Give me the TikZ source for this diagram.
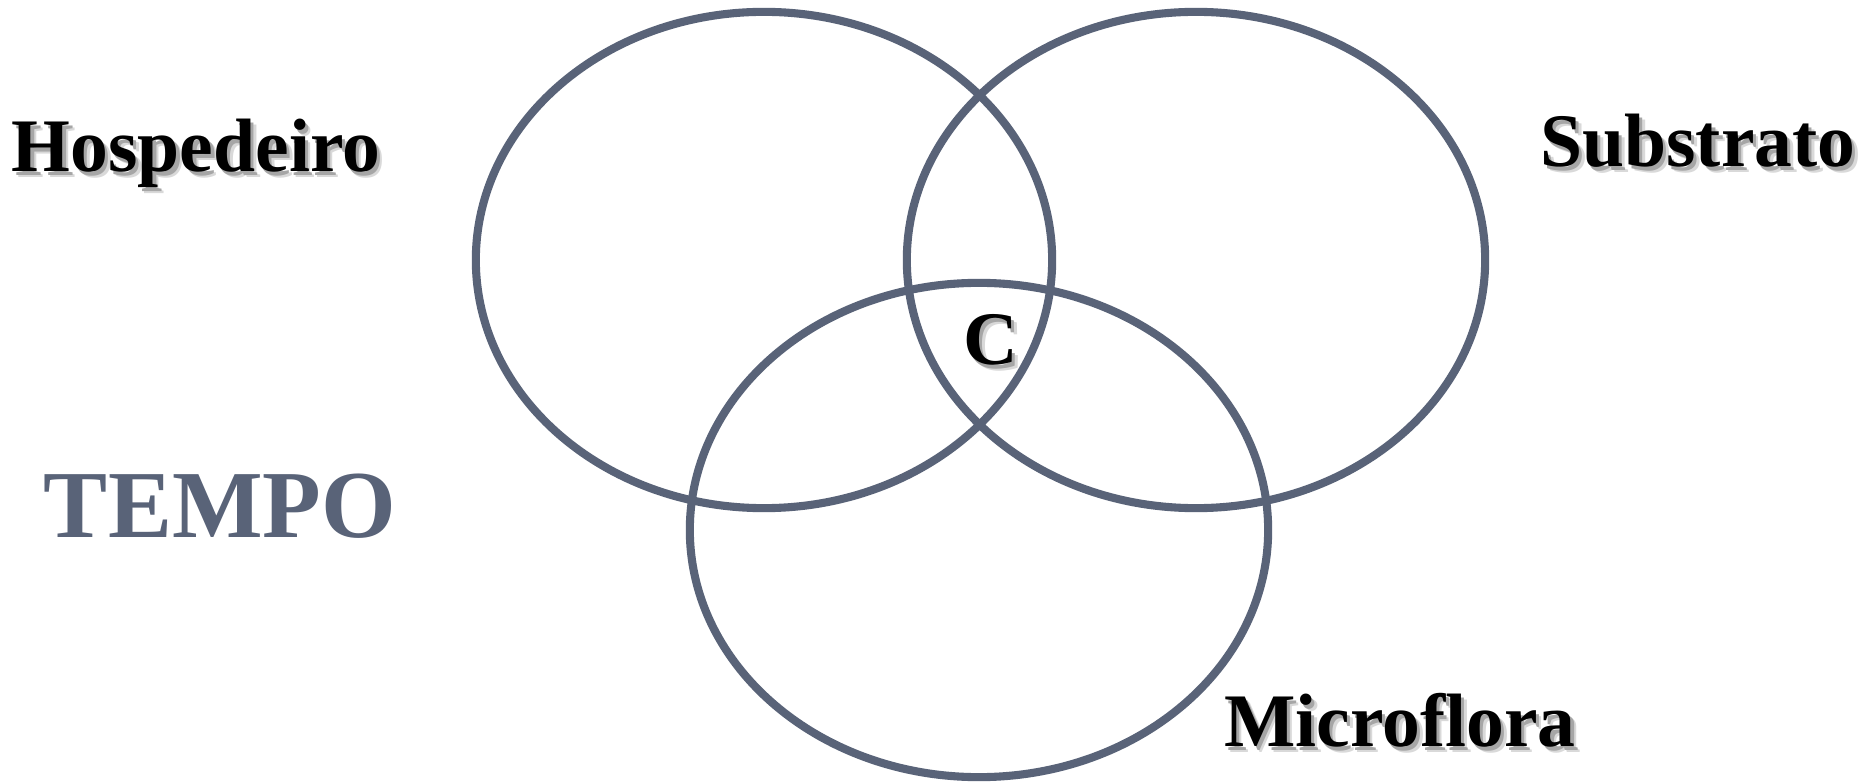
\documentclass[tikz,border=0pt]{standalone}
\usepackage{fontspec}
\setmainfont{Liberation Serif}
\definecolor{SlateGray}{RGB}{89,99,120}
\usepackage{tikz}
\usetikzlibrary{positioning}
\newcommand{\shadowed}[1]{%
  \rlap{\kern1.6pt\raisebox{-1.6pt}{\color{black!15}#1}}%
  \rlap{\kern0.9pt\raisebox{-0.9pt}{\color{black!35}#1}}#1}
\tikzset{
  ring/.style={draw=SlateGray, line width=2.3pt},
  lbl/.style={font=\bfseries\fontsize{21.5pt}{25pt}\selectfont, anchor=base, inner sep=0pt}
}

\begin{document}
\begin{tikzpicture}[x=0.01cm, y=-0.01cm]
    \useasboundingbox[fill=white] (0,0) rectangle (1871,782);
    % the three sets
    \draw[ring] (764,260) ellipse [x radius=2.88cm, y radius=2.48cm];
    \draw[ring] (1196,260) ellipse [x radius=2.89cm, y radius=2.48cm];
    \draw[ring] (979,530) ellipse [x radius=2.89cm, y radius=2.47cm];
    % labels
    \node[lbl] (hosp) at (196,172) {\shadowed{Hospedeiro}};
    \node[lbl] (subs) at (1698,167) {\shadowed{Substrato}};
    \node[lbl] (micro) at (1400,747) {\shadowed{Microflora}};
    \node[lbl] (core) at (991,365) {\shadowed{C}};
    \node[lbl, font=\bfseries\fontsize{27.3pt}{32pt}\selectfont, text=SlateGray] (tempo) at (220,538) {TEMPO};
\end{tikzpicture}
\end{document}
